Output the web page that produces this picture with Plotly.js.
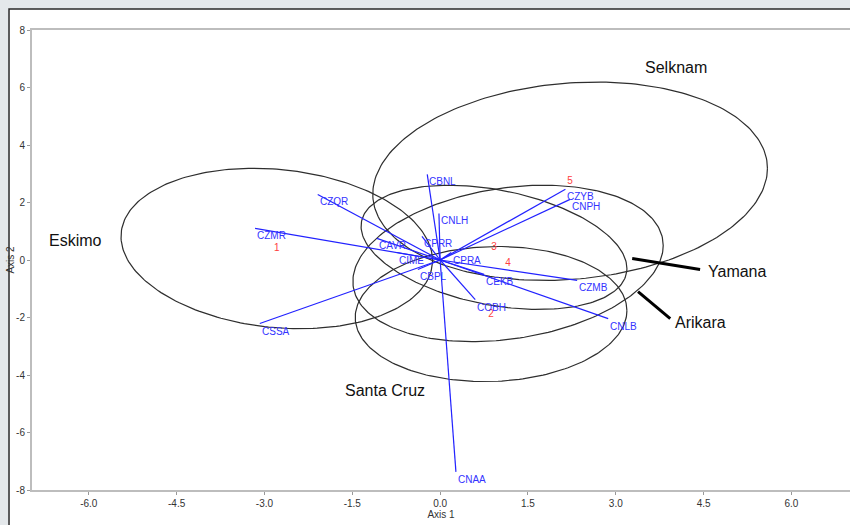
<!DOCTYPE html>
<html>
<head>
<meta charset="utf-8">
<script src="https://cdn.plot.ly/plotly-3.0.1.min.js"></script>
<style>
  html, body { margin: 0; padding: 0; background: #e4e8eb; }
  #chart { width: 850px; height: 525px; }
</style>
</head>
<body>
<div id="chart"></div>
<script>
// Variable loadings (biplot vectors)
const varNames = ['CBNL','CNLH','CPRR','CAVR','CIME','CBPL','CPRA','CEKB','COBH','CZMB','CNLB','CZYB','CNPH','CNAA','CZMR','CSSA','CZQR'];
const loadX = [-0.22, -0.02, -0.31, -1.08, -0.74, -0.38, 0.19, 0.75, 0.60, 2.34, 2.87, 2.14, 2.22, 0.27, -3.16, -3.08, -2.09];
const loadY = [2.98, 1.62, 0.82, 0.75, 0.26, -0.33, 0.26, -0.50, -1.38, -0.71, -2.04, 2.46, 2.11, -7.37, 1.10, -2.21, 2.28];

// Groups: centroid labels and 95% ellipse parameters
const groupIds = ['1', '2', '3', '4', '5'];
const groupNames = ['Eskimo', 'Santa Cruz', 'Yamana', 'Arikara', 'Selknam'];
const groupCx = [-2.79, 0.87, 0.92, 1.16, 2.22];
const groupCy = [0.40, -1.88, 0.44, -0.12, 2.74];
const ellHalfW = [2.66, 2.32, 2.27, 2.65, 3.37];
const ellHalfH = [2.79, 2.35, 2.16, 2.72, 3.45];
const ellCorr = [-0.15, 0.05, -0.34, 0.23, 0.13];

// Axis ticks
const xTickVals = [-6.0, -4.5, -3.0, -1.5, 0.0, 1.5, 3.0, 4.5, 6.0];
const xTickText = ['-6.0', '-4.5', '-3.0', '-1.5', '0.0', '1.5', '3.0', '4.5', '6.0'];
const yTickVals = [-8, -6, -4, -2, 0, 2, 4, 6, 8];
const yTickText = ['-8', '-6', '-4', '-2', '0', '2', '4', '6', '8'];

const traces = [];

// Ellipses
for (let g = 0; g < groupIds.length; g++) {
  const xs = [], ys = [];
  const r = ellCorr[g];
  const s = Math.sqrt(1 - r * r);
  for (let i = 0; i <= 240; i++) {
    const t = 2 * Math.PI * i / 240;
    xs.push(groupCx[g] + ellHalfW[g] * Math.cos(t));
    ys.push(groupCy[g] + ellHalfH[g] * (r * Math.cos(t) + s * Math.sin(t)));
  }
  traces.push({
    type: 'scatter', mode: 'lines', x: xs, y: ys,
    line: {color: '#2e2e2e', width: 1.2},
    hoverinfo: 'skip', showlegend: false, name: groupNames[g]
  });
}

// Vectors
const vx = [], vy = [];
for (let i = 0; i < varNames.length; i++) {
  vx.push(0, loadX[i], null);
  vy.push(0, loadY[i], null);
}
traces.push({
  type: 'scatter', mode: 'lines', x: vx, y: vy,
  line: {color: '#2222ff', width: 1.2},
  hoverinfo: 'skip', showlegend: false
});

// Centroid numbers
traces.push({
  type: 'scatter', mode: 'text', x: groupCx, y: groupCy, text: groupIds,
  textposition: 'middle center',
  textfont: {family: 'Liberation Sans, Arial, sans-serif', size: 10, color: '#ff4040'},
  hoverinfo: 'skip', showlegend: false
});

const bigFont = {family: 'Liberation Sans, Arial, sans-serif', size: 16, color: '#111'};
const labelFont = {family: 'Liberation Sans, Arial, sans-serif', size: 10, color: '#3333ff'};

const varAnnotations = varNames.map((name, i) => ({
  x: loadX[i], y: loadY[i], text: name, showarrow: false,
  xanchor: 'left', yanchor: 'top', font: labelFont
}));

const groupAnnotations = [
  {x: 4.02, y: 6.71, text: groupNames[4], showarrow: false, font: bigFont},
  {x: -6.22, y: 0.68, text: groupNames[0], showarrow: false, font: bigFont},
  {x: 5.08, y: -0.40, text: groupNames[2], showarrow: false, font: bigFont},
  {x: 4.44, y: -2.18, text: groupNames[3], showarrow: false, font: bigFont},
  {x: -0.94, y: -4.55, text: groupNames[1], showarrow: false, font: bigFont}
];

const tickFont = {family: 'Liberation Sans Narrow, Liberation Sans, Arial, sans-serif', size: 10, color: '#333'};

const layout = {
  width: 850, height: 525,
  paper_bgcolor: '#e4e8eb',
  plot_bgcolor: '#ffffff',
  margin: {l: 32, r: 0, t: 30, b: 35},
  showlegend: false,
  xaxis: {
    range: [-6.97, 7.0],
    tickmode: 'array', tickvals: xTickVals, ticktext: xTickText,
    showgrid: false, zeroline: false,
    showline: true, linecolor: '#bdbdbd', linewidth: 2, mirror: true,
    ticks: 'outside', ticklen: 3, tickcolor: '#999', tickwidth: 1,
    tickfont: tickFont,
    title: {text: 'Axis 1', standoff: 2, font: tickFont}
  },
  yaxis: {
    range: [-8, 8],
    tickmode: 'array', tickvals: yTickVals, ticktext: yTickText,
    showgrid: false, zeroline: false,
    showline: true, linecolor: '#bdbdbd', linewidth: 2, mirror: true,
    ticks: 'outside', ticklen: 3, tickcolor: '#999', tickwidth: 1,
    tickfont: tickFont,
    title: {text: 'Axis 2', standoff: 0, font: tickFont}
  },
  shapes: [
    {type: 'rect', xref: 'paper', yref: 'paper', x0: -0.0281, x1: 1.05, y0: -0.09, y1: 1.0457,
     fillcolor: '#ffffff', line: {color: '#2a2a2a', width: 1.5}, layer: 'below'},
    {type: 'line', xref: 'x', yref: 'y', x0: 3.28, y0: 0.05, x1: 4.44, y1: -0.33,
     line: {color: '#000', width: 3}},
    {type: 'line', xref: 'x', yref: 'y', x0: 3.38, y0: -1.10, x1: 3.93, y1: -2.04,
     line: {color: '#000', width: 3}}
  ],
  annotations: varAnnotations.concat(groupAnnotations)
};

Plotly.newPlot('chart', traces, layout, {staticPlot: true, displayModeBar: false});
</script>
</body>
</html>
